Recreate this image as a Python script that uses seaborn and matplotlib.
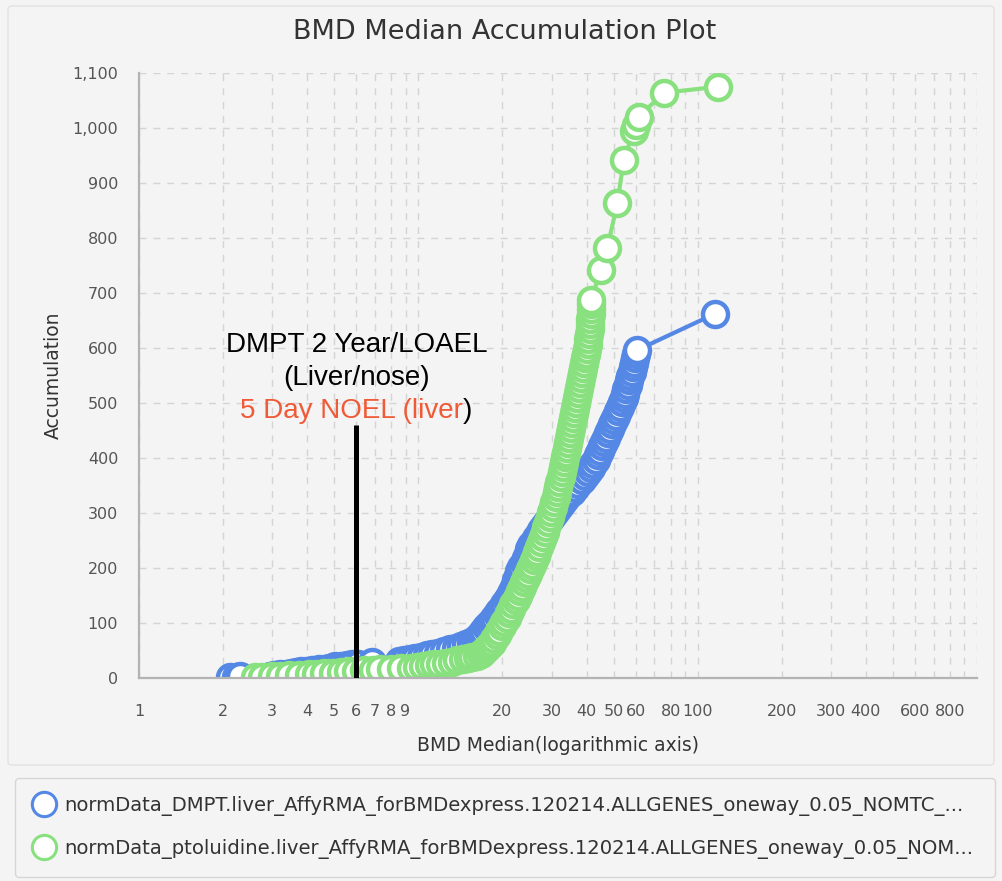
import matplotlib
matplotlib.use("Agg")
import matplotlib.pyplot as plt
from matplotlib.lines import Line2D
from matplotlib.ticker import FixedLocator, FixedFormatter, MultipleLocator, FuncFormatter
from matplotlib.offsetbox import TextArea, HPacker, AnnotationBbox
from matplotlib.patches import FancyBboxPatch
import seaborn as sns
import pandas as pd

# ---- series: BMD median vs. cumulative gene count ----
dmpt_bmd = [2.12, 2.22, 2.30, 2.95, 3.05, 3.20, 3.35, 3.50, 3.65, 3.80, 3.95, 4.15, 4.40, 4.60,
            4.80, 5.05, 5.30, 5.55, 5.80, 6.10, 6.85, 8.55, 8.90, 9.30, 9.75, 10.2, 10.7, 11.2,
            11.8, 12.4, 13.0, 13.6, 14.2, 14.8, 15.4, 15.9, 16.3, 16.7, 17.1, 17.5, 17.9, 18.3,
            18.7, 19.1, 19.5, 19.9, 20.3, 20.7, 21.1, 21.5, 21.8, 22.1, 22.4, 22.7, 23.0, 23.4,
            23.8, 24.2, 24.6, 25.0, 25.4, 25.9, 26.4, 27.0, 27.6, 28.2, 28.9, 29.6, 30.3, 31.0,
            31.8, 32.6, 33.5, 34.4, 35.4, 36.4, 37.4, 38.4, 39.4, 40.4, 41.4, 42.3, 43.1, 43.9,
            44.7, 45.5, 46.3, 47.1, 47.9, 48.7, 49.5, 50.3, 51.1, 51.9, 52.7, 53.5, 54.3, 55.0,
            55.6, 56.2, 56.8, 57.4, 58.0, 58.5, 59.0, 59.5, 60.0, 60.6, 115.0]
dmpt_acc = [1, 2, 3, 4, 5, 7, 8, 10, 11, 12, 13, 14, 16, 17,
            19, 21, 22, 24, 25, 26, 29, 31, 33, 35, 37, 39, 41, 43,
            46, 49, 52, 55, 58, 62, 66, 70, 75, 80, 86, 92, 98, 104,
            110, 116, 122, 128, 134, 141, 148, 155, 162, 170, 178, 186, 194, 202,
            210, 218, 226, 234, 241, 248, 255, 262, 269, 276, 283, 290, 297, 304,
            311, 318, 325, 332, 339, 346, 353, 360, 367, 374, 381, 389, 397, 405,
            413, 421, 429, 437, 445, 453, 461, 469, 477, 485, 493, 501, 509, 517,
            525, 533, 541, 549, 557, 565, 573, 581, 589, 596, 662]

ptol_bmd = [2.60, 2.75, 3.00, 3.20, 3.45, 3.75, 4.05, 4.30, 4.60, 4.95, 5.30, 5.60, 6.00, 6.40,
            6.90, 7.30, 8.00, 8.70, 9.40, 9.90, 10.4, 10.9, 11.4, 12.0, 12.6, 13.2, 13.8, 14.4,
            15.0, 15.6, 16.2, 16.7, 17.1, 17.5, 17.9, 18.3, 18.7, 19.1, 19.5, 19.9, 20.3, 20.7,
            21.1, 21.5, 21.9, 22.3, 22.7, 23.1, 23.5, 23.9, 24.3, 24.7, 25.1, 25.5, 25.9, 26.3,
            26.7, 27.1, 27.5, 27.9, 28.3, 28.7, 29.1, 29.5, 29.9, 30.3, 30.7, 31.1, 31.4, 31.7,
            32.0, 32.3, 32.6, 32.9, 33.2, 33.5, 33.8, 34.1, 34.4, 34.7, 35.0, 35.3, 35.6, 35.9,
            36.2, 36.5, 36.8, 37.1, 37.4, 37.7, 38.0, 38.3, 38.6, 38.9, 39.2, 39.5, 39.8, 40.1,
            40.4, 40.6, 40.8, 41.0, 41.2, 41.3, 41.4, 41.5, 41.55, 41.6, 44.9, 47.5, 51.6, 54.4,
            59.0, 60.2, 61.5, 75.5, 118.0]
ptol_acc = [1, 2, 3, 4, 5, 6, 7, 8, 9, 10, 11, 12, 13, 14,
            15, 16, 17, 18, 19, 20, 22, 23, 25, 26, 28, 30, 32, 34,
            36, 38, 40, 43, 47, 52, 58, 64, 71, 78, 86, 94, 102, 110,
            118, 126, 134, 142, 150, 158, 166, 174, 182, 190, 198, 206, 214, 222,
            230, 239, 248, 257, 266, 275, 284, 293, 302, 311, 320, 329, 338, 347,
            356, 365, 374, 383, 392, 401, 410, 419, 428, 437, 446, 455, 464, 473,
            482, 491, 500, 509, 518, 527, 536, 545, 554, 563, 572, 581, 590, 599,
            608, 617, 626, 635, 644, 653, 662, 671, 680, 687, 742, 782, 864, 942,
            995, 1005, 1020, 1064, 1075]

series_labels = [
    "normData_DMPT.liver_AffyRMA_forBMDexpress.120214.ALLGENES_oneway_0.05_NOMTC_...",
    "normData_ptoluidine.liver_AffyRMA_forBMDexpress.120214.ALLGENES_oneway_0.05_NOM...",
]
series_colors = ["#5587e4", "#88e07e"]

x_ticks = [1, 2, 3, 4, 5, 6, 7, 8, 9, 10, 20, 30, 40, 50, 60, 70, 80, 90,
           100, 200, 300, 400, 500, 600, 700, 800, 900, 1000]
x_tick_labels = ["1", "2", "3", "4", "5", "6", "7", "8", "9", "", "20", "30", "40", "50", "60", "",
                 "80", "", "100", "200", "300", "400", "", "600", "", "800", "", ""]

noel_dose = 6
noel_top = 460
note_lines = ["DMPT 2 Year/LOAEL", "(Liver/nose)"]
note_red = "5 Day NOEL (liver"
note_tail = ")"

# ---- styling ----
BG = "#f4f4f4"
AXIS_GRAY = "#b3b3b3"
sns.set_style("white")
plt.rcParams["font.family"] = ["DejaVu Sans"]

fig = plt.figure(figsize=(10.02, 8.81), dpi=100, facecolor=BG)
W, H = 1002, 881
ax = fig.add_axes([139 / W, 1 - 678 / H, (977 - 139) / W, (678 - 73) / H])
ax.set_facecolor(BG)

frames = [
    pd.DataFrame({"bmd": dmpt_bmd, "acc": dmpt_acc}),
    pd.DataFrame({"bmd": ptol_bmd, "acc": ptol_acc}),
]
for df, col in zip(frames, series_colors):
    sns.lineplot(data=df, x="bmd", y="acc", ax=ax, color=col, lw=3.0,
                 estimator=None, sort=False, legend=False,
                 marker="o", markersize=18, markerfacecolor="white",
                 markeredgecolor=col, markeredgewidth=3.2)

ax.set_xscale("log")
ax.set_xlim(1, 1000)
ax.set_ylim(0, 1100)

ax.xaxis.set_major_locator(FixedLocator(x_ticks))
ax.xaxis.set_major_formatter(FixedFormatter(x_tick_labels))
ax.xaxis.set_minor_locator(FixedLocator([]))
ax.yaxis.set_major_locator(MultipleLocator(100))
ax.yaxis.set_minor_locator(MultipleLocator(20))
ax.yaxis.set_major_formatter(FuncFormatter(lambda v, p: f"{int(v):,}"))

ax.tick_params(axis="x", which="major", length=9, width=1.1, color=AXIS_GRAY,
               labelsize=11.5, labelcolor="#555555", pad=10)
ax.tick_params(axis="y", which="major", length=11, width=1.1, color=AXIS_GRAY,
               labelsize=11.5, labelcolor="#555555", pad=4)
ax.tick_params(axis="y", which="minor", length=6, width=1.0, color=AXIS_GRAY)

ax.grid(True, which="major", axis="both", linestyle=(0, (5, 5)), color="#d4d4d4", lw=1.0)
ax.set_axisbelow(True)

for side in ("top", "right"):
    ax.spines[side].set_visible(False)
for side in ("left", "bottom"):
    ax.spines[side].set_color(AXIS_GRAY)
    ax.spines[side].set_linewidth(1.6)

ax.set_xlabel("BMD Median(logarithmic axis)", fontsize=13.5, color="#333333", labelpad=12)
ax.set_ylabel("Accumulation", fontsize=13.5, color="#333333", labelpad=7)

fig.text(505 / W, 1 - 32 / H, "BMD Median Accumulation Plot", ha="center", va="center",
         fontsize=19.5, color="#333333")

# NOEL marker line and its note
ax.plot([noel_dose, noel_dose], [0, noel_top], color="black", lw=3.6,
        solid_capstyle="butt", zorder=6)
note_font = dict(fontsize=20, family=["Liberation Sans", "DejaVu Sans"])
ax.text(noel_dose, 605, note_lines[0], ha="center", va="center", color="black", zorder=7, **note_font)
ax.text(noel_dose, 545, note_lines[1], ha="center", va="center", color="black", zorder=7, **note_font)
red_part = TextArea(note_red, textprops=dict(color="#f05a36", **note_font))
tail_part = TextArea(note_tail, textprops=dict(color="black", **note_font))
packed = HPacker(children=[red_part, tail_part], align="baseline", pad=0, sep=0)
ax.add_artist(AnnotationBbox(packed, (noel_dose, 485), xycoords="data", frameon=False,
                             box_alignment=(0.5, 0.5), pad=0, zorder=7))

# legend panel
handles = [Line2D([], [], linestyle="none", marker="o", markersize=17.5, markerfacecolor="white",
                  markeredgecolor=c, markeredgewidth=2.2) for c in series_colors]
leg = fig.legend(handles, series_labels, loc="upper left",
                 bbox_to_anchor=(15 / W, 1 - 778 / H, (995 - 15) / W, 0.0), mode="expand",
                 fontsize=14.1, frameon=True, fancybox=True, facecolor=BG, edgecolor="#d6d6d6",
                 framealpha=1, handletextpad=0.44, labelspacing=1.2, borderpad=0.9,
                 handlelength=1.2, borderaxespad=0)
for t in leg.get_texts():
    t.set_color("#333333")

# outer chart panel
fig.patches.append(FancyBboxPatch((8 / W, 1 - 765 / H), (994 - 8) / W, (765 - 6) / H,
                                  boxstyle="round,pad=0,rounding_size=0.004",
                                  transform=fig.transFigure, facecolor="none",
                                  edgecolor="#e2e2e2", lw=1.0, zorder=0))

fig.savefig("out.png", dpi=100, facecolor=BG)
